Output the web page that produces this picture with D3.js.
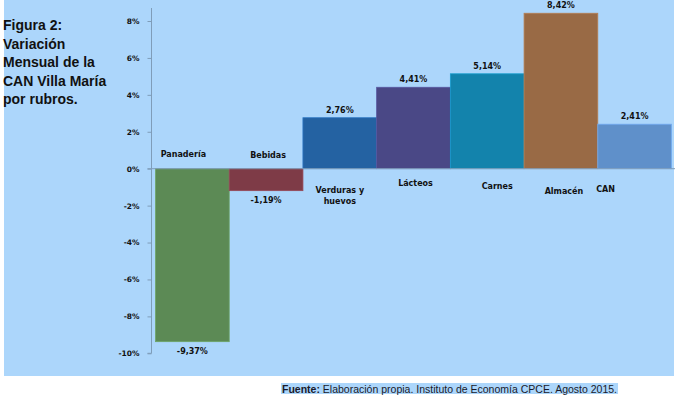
<!DOCTYPE html>
<html><head><meta charset="utf-8">
<script src="https://cdn.jsdelivr.net/npm/d3@7/dist/d3.min.js"></script>
<style>
body{margin:0;background:#fff;}
svg{display:block;}
</style></head>
<body>
<svg id="c" width="679" height="402"></svg>
<script>
const categories = ["Panadería","Bebidas","Verduras y huevos","Lácteos","Carnes","Almacén","CAN"];
const values = [-9.37,-1.19,2.76,4.41,5.14,8.42,2.41];
const valueLabels = ["-9,37%","-1,19%","2,76%","4,41%","5,14%","8,42%","2,41%"];
const colors = ["#5C8A55","#7E3B47","#2462A2","#4A4886","#1383AC","#996A45","#5F90CA"];
const tickValues = [8,6,4,2,0,-2,-4,-6,-8,-10];
const titleLines = ["Figura 2:","Variación","Mensual de la","CAN Villa María","por rubros."];

// category label placement (offset from bar centre, baseline y relative to zero line)
const labelLayout = [
  {dx:-9, dy:-12, lines:["Panadería"]},
  {dx:2, dy:-11, lines:["Bebidas"]},
  {dx:0, dy:24, lines:["Verduras y","huevos"]},
  {dx:2, dy:17, lines:["Lácteos"]},
  {dx:10, dy:20, lines:["Carnes"]},
  {dx:3, dy:25, lines:["Almacén"]},
  {dx:-29, dy:23, lines:["CAN"]}
];

const svg = d3.select("#c");
svg.append("rect").attr("x",4).attr("y",0).attr("width",670).attr("height",376).attr("fill","#ACD6FB");

const x = d3.scaleBand().domain(categories).range([155.5,671.5]).paddingInner(0).paddingOuter(0);
const y = d3.scaleLinear().domain([-10,8]).range([353.3,21]);

const axisX = 151.5;
const g = svg.append("g");

// y axis
const yAxis = d3.axisLeft(y).tickValues(tickValues).tickSize(4).tickFormat(d=>d+"%");
const ya = g.append("g").attr("transform",`translate(${axisX},0)`).call(yAxis);
ya.select(".domain").attr("stroke","#7F9DB9").attr("d",`M-4,${y(-10)}H0V8`);
ya.selectAll(".tick line").attr("stroke","#7F9DB9");
ya.selectAll(".tick text").attr("font-family","DejaVu Sans, Verdana, sans-serif").attr("font-size","7.5px")
  .attr("font-weight","bold").attr("fill","#111").attr("x",-12);

// bars
g.selectAll("rect.bar").data(categories).enter().append("rect").attr("class","bar")
  .attr("x",d=>x(d)).attr("width",x.bandwidth())
  .attr("y",(d,i)=>y(Math.max(0,values[i])))
  .attr("height",(d,i)=>Math.abs(y(values[i])-y(0)))
  .attr("fill",(d,i)=>colors[i])
  .attr("stroke",(d,i)=>d3.color(colors[i]).brighter(0.5)).attr("stroke-width",0.8);

// zero line
g.append("line").attr("x1",axisX-4).attr("x2",675).attr("y1",y(0)).attr("y2",y(0)).attr("stroke","#7F9DB9").attr("stroke-width",1);

// value labels
g.selectAll("text.val").data(categories).enter().append("text").attr("class","val")
  .attr("x",d=>x(d)+x.bandwidth()/2)
  .attr("y",(d,i)=>values[i]>=0 ? y(values[i])-5 : y(values[i])+12)
  .attr("text-anchor","middle")
  .attr("font-family","DejaVu Sans, Verdana, sans-serif").attr("font-size","8px").attr("font-weight","bold").attr("fill","#111")
  .text((d,i)=>valueLabels[i]);

// category labels
categories.forEach((c,i)=>{
  const L = labelLayout[i];
  const t = g.append("text").attr("text-anchor","middle")
    .attr("font-family","DejaVu Sans, Verdana, sans-serif").attr("font-size","8px").attr("font-weight","bold").attr("fill","#111");
  L.lines.forEach((ln,j)=>{
    t.append("tspan").attr("x",x(c)+x.bandwidth()/2+L.dx).attr("y",y(0)+L.dy+j*11.5).text(ln);
  });
});

// title
const tt = svg.append("text").attr("font-family","Liberation Sans, Arial, sans-serif").attr("font-size","14px").attr("font-weight","bold").attr("fill","#111");
titleLines.forEach((ln,j)=>tt.append("tspan").attr("x",3).attr("y",30+j*18.6).text(ln));

// footer
const ft = svg.append("text").attr("x",282).attr("y",392.5).attr("font-family","Liberation Sans, Arial, sans-serif").attr("font-size","10.5px").attr("fill","#1a1a2a");
ft.append("tspan").attr("font-weight","bold").text("Fuente:");
ft.append("tspan").text(" Elaboración propia. Instituto de Economía CPCE. Agosto 2015.");
const bb = ft.node().getBBox();
svg.insert("rect", () => ft.node()).attr("x",bb.x-1).attr("y",bb.y+0.5).attr("width",bb.width+2).attr("height",bb.height-1).attr("fill","#ACD6FB");
</script>
</body></html>
